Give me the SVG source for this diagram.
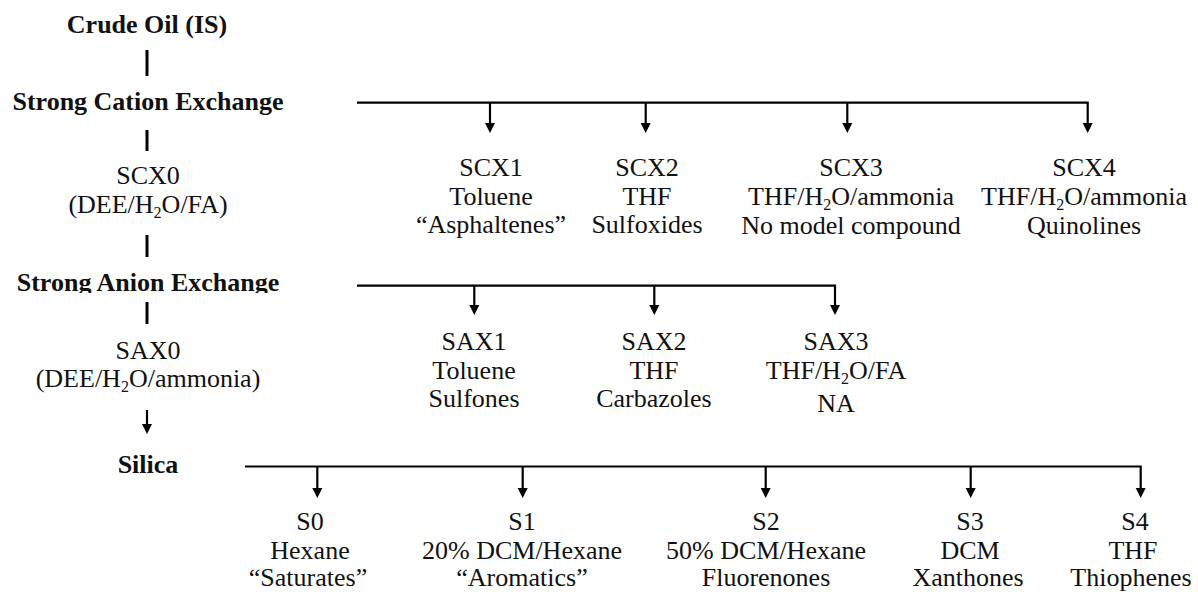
<svg xmlns="http://www.w3.org/2000/svg" width="1198" height="592" viewBox="0 0 1198 592">
<style>
text{font-family:"Liberation Serif","Times New Roman",serif;font-size:26px;fill:#111;text-anchor:middle}
.b{font-weight:bold}
.sub{font-size:16px}
.ln{stroke:#000;stroke-width:2.2;fill:none}
.vl{stroke:#000;stroke-width:3;fill:none}
</style>
<defs>
<clipPath id="cl"><rect x="0" y="260" width="340" height="33"/></clipPath>
</defs>
<rect width="1198" height="592" fill="#fff"/>

<g id="connectors">
<line class="vl" x1="147" y1="50" x2="147" y2="76"/>
<line class="vl" x1="147" y1="130" x2="147" y2="151"/>
<line class="vl" x1="147" y1="235" x2="147" y2="257"/>
<line class="vl" x1="147" y1="302" x2="147" y2="324"/>
<line class="ln" x1="147" y1="410" x2="147" y2="425"/>
<polygon points="142,424 152,424 147,434"/>

<polyline class="ln" points="357,102.7 1087.7,102.7 1087.7,124"/>
<line class="ln" x1="490" y1="102.7" x2="490" y2="124"/>
<line class="ln" x1="645.7" y1="102.7" x2="645.7" y2="124"/>
<line class="ln" x1="847.3" y1="102.7" x2="847.3" y2="124"/>
<polygon points="485,123 495,123 490,133"/>
<polygon points="640.7,123 650.7,123 645.7,133"/>
<polygon points="842.3,123 852.3,123 847.3,133"/>
<polygon points="1082.7,123 1092.7,123 1087.7,133"/>

<polyline class="ln" points="357,285.7 835,285.7 835,306"/>
<line class="ln" x1="474.3" y1="285.7" x2="474.3" y2="306"/>
<line class="ln" x1="654.3" y1="285.7" x2="654.3" y2="306"/>
<polygon points="469.3,305 479.3,305 474.3,315"/>
<polygon points="649.3,305 659.3,305 654.3,315"/>
<polygon points="830,305 840,305 835,315"/>

<polyline class="ln" points="245,466.5 1140.7,466.5 1140.7,489"/>
<line class="ln" x1="317.3" y1="466.5" x2="317.3" y2="489"/>
<line class="ln" x1="522.7" y1="466.5" x2="522.7" y2="489"/>
<line class="ln" x1="765.7" y1="466.5" x2="765.7" y2="489"/>
<line class="ln" x1="970.7" y1="466.5" x2="970.7" y2="489"/>
<polygon points="312.3,488 322.3,488 317.3,498"/>
<polygon points="517.7,488 527.7,488 522.7,498"/>
<polygon points="760.7,488 770.7,488 765.7,498"/>
<polygon points="965.7,488 975.7,488 970.7,498"/>
<polygon points="1135.7,488 1145.7,488 1140.7,498"/>
</g>

<g id="crude"><text class="b" x="147" y="33">Crude Oil (IS)</text></g>
<g id="scx"><text class="b" x="148" y="110">Strong Cation Exchange</text></g>
<g id="scx0"><text x="148" y="184">SCX0</text><text x="148" y="213">(DEE/H<tspan class="sub" dy="5">2</tspan><tspan dy="-5">O/FA)</tspan></text></g>
<g id="sax" clip-path="url(#cl)"><text class="b" x="148" y="291">Strong Anion Exchange</text></g>
<g id="sax0"><text x="148" y="359">SAX0</text><text x="148" y="387">(DEE/H<tspan class="sub" dy="5">2</tspan><tspan dy="-5">O/ammonia)</tspan></text></g>
<g id="silica"><text class="b" x="148" y="473">Silica</text></g>

<g id="scx1"><text x="491" y="176">SCX1</text><text x="491" y="205">Toluene</text><text x="491" y="233">“Asphaltenes”</text></g>
<g id="scx2"><text x="647" y="176">SCX2</text><text x="647" y="205">THF</text><text x="647" y="233">Sulfoxides</text></g>
<g id="scx3"><text x="851" y="176">SCX3</text><text x="851" y="205">THF/H<tspan class="sub" dy="5">2</tspan><tspan dy="-5">O/ammonia</tspan></text><text x="851" y="234">No model compound</text></g>
<g id="scx4"><text x="1084" y="176">SCX4</text><text x="1084" y="205">THF/H<tspan class="sub" dy="5">2</tspan><tspan dy="-5">O/ammonia</tspan></text><text x="1084" y="234">Quinolines</text></g>

<g id="sax1"><text x="474" y="350">SAX1</text><text x="474" y="379">Toluene</text><text x="474" y="407">Sulfones</text></g>
<g id="sax2"><text x="654" y="350">SAX2</text><text x="654" y="379">THF</text><text x="654" y="407">Carbazoles</text></g>
<g id="sax3"><text x="836" y="350">SAX3</text><text x="836" y="379">THF/H<tspan class="sub" dy="5">2</tspan><tspan dy="-5">O/FA</tspan></text><text x="836" y="412">NA</text></g>

<g id="s0"><text x="310" y="530">S0</text><text x="310" y="559">Hexane</text><text x="308" y="586">“Saturates”</text></g>
<g id="s1"><text x="522" y="530">S1</text><text x="522" y="559">20% DCM/Hexane</text><text x="522" y="586">“Aromatics”</text></g>
<g id="s2"><text x="766" y="530">S2</text><text x="766" y="559">50% DCM/Hexane</text><text x="766" y="586">Fluorenones</text></g>
<g id="s3"><text x="970" y="530">S3</text><text x="970" y="559">DCM</text><text x="968" y="586">Xanthones</text></g>
<g id="s4"><text x="1135" y="530">S4</text><text x="1133" y="559">THF</text><text x="1131" y="586">Thiophenes</text></g>
</svg>
